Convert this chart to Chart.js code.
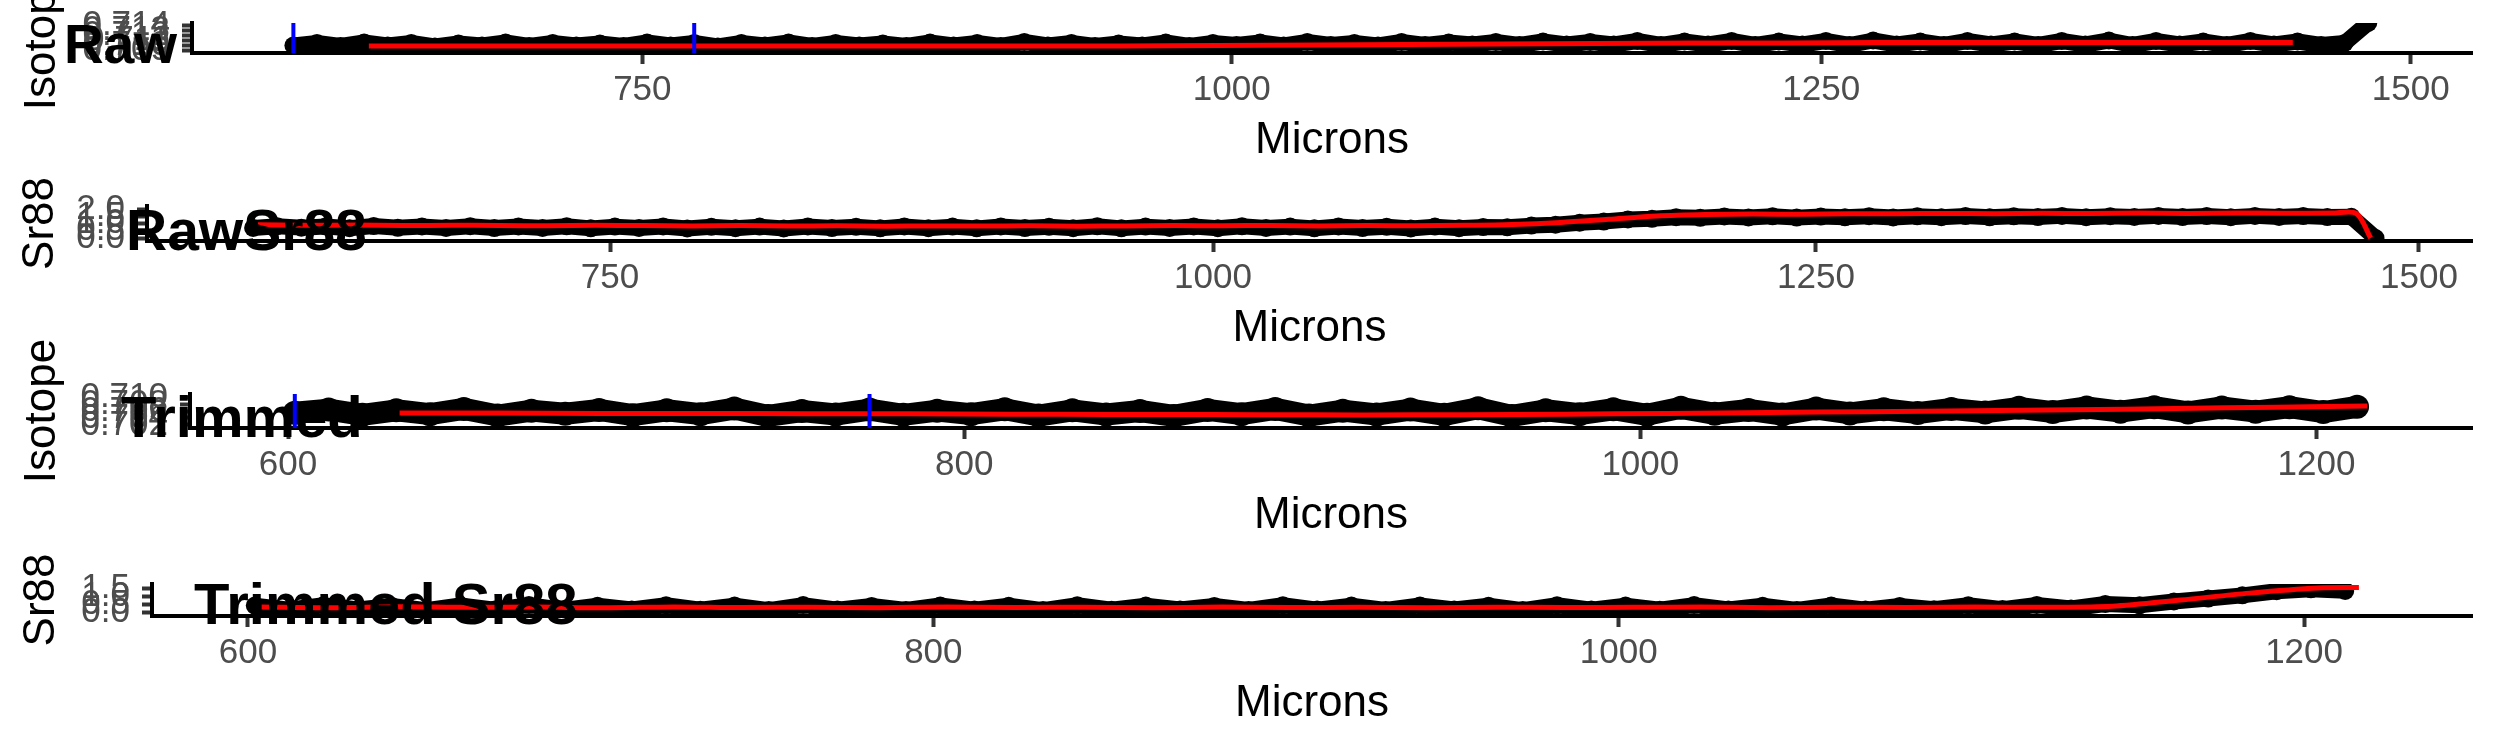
<!DOCTYPE html>
<html>
<head>
<meta charset="utf-8">
<script src="https://cdn.jsdelivr.net/npm/chart.js@4.4.1/dist/chart.umd.min.js"></script>
<style>
  html, body { margin: 0; padding: 0; background: #fff; }
  body { width: 2495px; height: 749px; position: relative; overflow: hidden; }
  canvas { position: absolute; left: 0; }
</style>
</head>
<body>
<canvas id="p1" width="2495" height="190" style="top:0px"></canvas>
<canvas id="p2" width="2495" height="260" style="top:120px"></canvas>
<canvas id="p3" width="2495" height="265" style="top:300px"></canvas>
<canvas id="p4" width="2495" height="259" style="top:490px"></canvas>
<script>
// Microns of the raw profile
const rawMicrons = [
  602, 612, 622, 632, 642, 652, 662, 672, 682, 692,
  702, 712, 722, 732, 742, 752, 762, 772, 782, 792,
  802, 812, 822, 832, 842, 852, 862, 872, 882, 892,
  902, 912, 922, 932, 942, 952, 962, 972, 982, 992,
  1002, 1012, 1022, 1032, 1042, 1052, 1062, 1072, 1082, 1092,
  1102, 1112, 1122, 1132, 1142, 1152, 1162, 1172, 1182, 1192,
  1202, 1212, 1222, 1232, 1242, 1252, 1262, 1272, 1282, 1292,
  1302, 1312, 1322, 1332, 1342, 1352, 1362, 1372, 1382, 1392,
  1402, 1412, 1422, 1432, 1442, 1452, 1462, 1472, 1482
];
// Isotope ratio, raw
const rawIsotope = [
  0.7099, 0.7104, 0.7098, 0.7105, 0.7099, 0.7104, 0.7097, 0.7103, 0.7099, 0.7105,
  0.7098, 0.7104, 0.7099, 0.7103, 0.7098, 0.7105, 0.7099, 0.7104, 0.7097, 0.7104,
  0.7099, 0.7105, 0.7098, 0.7104, 0.7099, 0.7103, 0.7098, 0.7105, 0.7099, 0.7104,
  0.7098, 0.7106, 0.7099, 0.7104, 0.7098, 0.7103, 0.7099, 0.7105, 0.7098, 0.7104,
  0.7100, 0.7105, 0.7099, 0.7106, 0.7100, 0.7104, 0.7099, 0.7106, 0.7100, 0.7105,
  0.7101, 0.7106, 0.7100, 0.7107, 0.7101, 0.7106, 0.7101, 0.7108, 0.7100, 0.7107,
  0.7101, 0.7108, 0.7100, 0.7107, 0.7101, 0.7108, 0.7100, 0.7109, 0.7101, 0.7107,
  0.7100, 0.7108, 0.7101, 0.7107, 0.7100, 0.7108, 0.7101, 0.7109, 0.7100, 0.7108,
  0.7101, 0.7107, 0.7100, 0.7108, 0.7101, 0.7107, 0.7100, 0.7104, 0.7144
];
// Sr88 signal, raw
const rawSr88 = [
  0.70, 0.82, 0.72, 0.80, 0.68, 0.83, 0.71, 0.80, 0.70, 0.82,
  0.69, 0.80, 0.70, 0.81, 0.67, 0.79, 0.70, 0.80, 0.66, 0.78,
  0.68, 0.79, 0.66, 0.80, 0.69, 0.78, 0.67, 0.80, 0.68, 0.79,
  0.67, 0.80, 0.69, 0.78, 0.68, 0.81, 0.67, 0.79, 0.70, 0.80,
  0.68, 0.81, 0.70, 0.79, 0.67, 0.80, 0.69, 0.78, 0.66, 0.79,
  0.68, 0.76, 0.74, 0.86, 0.92, 1.06, 1.14, 1.28, 1.33, 1.44,
  1.40, 1.49, 1.42, 1.50, 1.41, 1.48, 1.43, 1.51, 1.42, 1.50,
  1.44, 1.52, 1.43, 1.50, 1.45, 1.53, 1.44, 1.51, 1.46, 1.53,
  1.45, 1.52, 1.44, 1.53, 1.46, 1.52, 1.45, 1.47, 0.00
];
// Smoothed (red) lines, raw
const rawIsoSmoothX = [634, 674, 714, 754, 794, 834, 874, 914, 954, 994, 1034,
  1074, 1114, 1154, 1194, 1234, 1274, 1314, 1354, 1394, 1434, 1450];
const rawIsoSmooth = [0.7098, 0.7098, 0.7098, 0.7098, 0.7098, 0.7098, 0.7098, 0.7098, 0.7098, 0.7099, 0.7100,
  0.7101, 0.7102, 0.7103, 0.7104, 0.7104, 0.7105, 0.7105, 0.7105, 0.7105, 0.7105, 0.7105];
const rawSrSmoothX = [
  604, 624, 644, 664, 684, 704, 724, 744, 764, 784,
  804, 824, 844, 864, 884, 904, 924, 944, 964, 984,
  1004, 1024, 1044, 1064, 1084, 1104, 1124, 1144, 1164, 1184,
  1204, 1224, 1244, 1264, 1284, 1304, 1324, 1344, 1364, 1384,
  1404, 1424, 1444, 1464, 1474, 1480
];
const rawSrSmooth = [
  0.92, 0.88, 0.90, 0.86, 0.89, 0.87, 0.85, 0.88, 0.86, 0.84,
  0.86, 0.83, 0.85, 0.82, 0.84, 0.83, 0.85, 0.82, 0.84, 0.86,
  0.85, 0.87, 0.84, 0.86, 0.85, 0.88, 0.94, 1.08, 1.30, 1.52,
  1.62, 1.66, 1.64, 1.68, 1.67, 1.70, 1.68, 1.71, 1.69, 1.72,
  1.70, 1.73, 1.71, 1.72, 1.70, 0.00
];

// Microns of the trimmed profile
const trimMicrons = [
  602, 612, 622, 632, 642, 652, 662, 672, 682, 692,
  702, 712, 722, 732, 742, 752, 762, 772, 782, 792,
  802, 812, 822, 832, 842, 852, 862, 872, 882, 892,
  902, 912, 922, 932, 942, 952, 962, 972, 982, 992,
  1002, 1012, 1022, 1032, 1042, 1052, 1062, 1072, 1082, 1092,
  1102, 1112, 1122, 1132, 1142, 1152, 1162, 1172, 1182, 1192,
  1202, 1212
];
const trimIsotope = [
  0.7055, 0.7064, 0.7049, 0.7062, 0.7051, 0.7066, 0.7047, 0.7061, 0.7052, 0.7063,
  0.7048, 0.7062, 0.7051, 0.7067, 0.7046, 0.7060, 0.7050, 0.7064, 0.7049, 0.7061,
  0.7051, 0.7065, 0.7047, 0.7062, 0.7050, 0.7060, 0.7046, 0.7063, 0.7051, 0.7066,
  0.7047, 0.7061, 0.7050, 0.7064, 0.7049, 0.7068, 0.7046, 0.7062, 0.7051, 0.7065,
  0.7049, 0.7069, 0.7052, 0.7063, 0.7050, 0.7067, 0.7053, 0.7065, 0.7054, 0.7066,
  0.7056, 0.7069, 0.7057, 0.7070, 0.7058, 0.7071, 0.7056, 0.7070, 0.7058, 0.7071,
  0.7057, 0.7072
];
const trimSr88 = [
  0.40, 0.14, 0.42, 0.16, 0.38, 0.12, 0.41, 0.15, 0.43, 0.13,
  0.39, 0.16, 0.42, 0.14, 0.40, 0.12, 0.43, 0.15, 0.38, 0.13,
  0.41, 0.15, 0.39, 0.12, 0.42, 0.14, 0.40, 0.16, 0.38, 0.13,
  0.42, 0.15, 0.40, 0.13, 0.41, 0.16, 0.39, 0.12, 0.42, 0.15,
  0.40, 0.14, 0.43, 0.16, 0.39, 0.13, 0.41, 0.15, 0.38, 0.17,
  0.42, 0.18, 0.44, 0.22, 0.50, 0.42, 0.66, 0.84, 1.04, 1.30,
  1.42, 1.32
];
// Smoothed (red) lines, trimmed
const trimIsoSmoothX = [633, 663, 693, 723, 753, 783, 813, 843, 873, 903,
  933, 963, 993, 1023, 1053, 1083, 1113, 1143, 1173, 1203, 1215];
const trimIsoSmooth = [0.7054, 0.7054, 0.7053, 0.7053, 0.7052, 0.7052, 0.7051, 0.7050, 0.7050, 0.7049,
  0.7049, 0.7050, 0.7052, 0.7054, 0.7057, 0.7059, 0.7062, 0.7065, 0.7069, 0.7073, 0.7074];
const trimSrSmoothX = [
  604, 624, 644, 664, 684, 704, 724, 744, 764, 784,
  804, 824, 844, 864, 884, 904, 924, 944, 964, 984,
  1004, 1024, 1044, 1064, 1084, 1104, 1124, 1144, 1164, 1184,
  1204, 1216
];
const trimSrSmooth = [
  0.32, 0.27, 0.33, 0.29, 0.31, 0.26, 0.32, 0.28, 0.30, 0.27,
  0.31, 0.28, 0.30, 0.26, 0.31, 0.28, 0.29, 0.27, 0.30, 0.28,
  0.29, 0.31, 0.27, 0.30, 0.28, 0.31, 0.30, 0.36, 0.75, 1.18,
  1.50, 1.53
];

// Blue markers (window limits)
const windowMarks = [602, 772];

// Tick labels
const rawXTicks = [750, 1000, 1250, 1500];
const trimXTicks = [600, 800, 1000, 1200];
const rawIsoTicks = [0.709, 0.710, 0.711, 0.712, 0.713, 0.714];
const rawSrTicks = [0, 0.5, 1, 1.5, 2];
const trimIsoTicks = [0.702, 0.704, 0.706, 0.708, 0.710];
const trimSrTicks = [0, 0.5, 1, 1.5];

const FONT = '"Liberation Sans", Arial, Helvetica, sans-serif';
Chart.defaults.font.family = FONT;

function pontos(xs, ys) {
  return xs.map((x, i) => ({ x: x, y: ys[i] }));
}

// Título em negrito desenhado por cima do painel
const tituloPainel = {
  id: 'tituloPainel',
  afterDraw(chart, args, opts) {
    const ctx = chart.ctx;
    ctx.save();
    ctx.font = 'bold ' + opts.size + 'px ' + FONT;
    ctx.fillStyle = '#000';
    ctx.textBaseline = 'alphabetic';
    ctx.fillText(opts.text, opts.x, opts.y);
    ctx.restore();
  }
};

function criarPainel(id, p) {
  const datasets = [];
  if (p.marks) {
    p.marks.forEach(m => {
      datasets.push({
        data: [{ x: m, y: p.yMin }, { x: m, y: p.yMax }],
        showLine: true, borderColor: '#0000FF', borderWidth: 4,
        pointRadius: 0, clip: 0
      });
    });
  }
  datasets.push({
    data: pontos(p.smoothX, p.smooth),
    showLine: true, borderColor: '#FF0000', borderWidth: 5,
    pointRadius: 0, tension: 0.3, clip: 0
  });
  datasets.push({
    data: pontos(p.xs, p.ys),
    showLine: true, borderColor: '#000', backgroundColor: '#000',
    borderWidth: p.band, borderJoinStyle: 'round', borderCapStyle: 'round',
    pointRadius: p.dot, pointBorderWidth: 0, clip: 0
  });

  return new Chart(document.getElementById(id), {
    type: 'scatter',
    data: { datasets: datasets },
    plugins: [tituloPainel],
    options: {
      responsive: false,
      animation: false,
      events: [],
      layout: { padding: { left: 0, right: 23, top: p.padTop, bottom: p.padBottom } },
      plugins: {
        legend: { display: false },
        tooltip: { enabled: false },
        tituloPainel: p.title
      },
      scales: {
        x: {
          type: 'linear', min: p.xMin, max: p.xMax,
          afterBuildTicks: s => { s.ticks = p.xTicks.map(v => ({ value: v })); },
          afterFit: s => { s.height = 114; s.paddingLeft = 0; s.paddingRight = 0; },
          grid: { display: true, drawOnChartArea: false, drawTicks: true, tickLength: 11, tickColor: '#333333', tickWidth: 4 },
          border: { display: true, color: '#000', width: 4 },
          ticks: { autoSkip: false, maxRotation: 0, padding: 5, color: '#4D4D4D', font: { size: 35 },
            callback: v => String(v) },
          title: { display: true, text: 'Microns', color: '#000', font: { size: 44 }, padding: { top: 0, bottom: 0 } }
        },
        y: {
          type: 'linear', min: p.yMin, max: p.yMax,
          afterBuildTicks: s => { s.ticks = p.yTicks.map(v => ({ value: v })); },
          afterFit: s => { s.width = p.yWidth; s.paddingTop = 0; s.paddingBottom = 0; },
          grid: { display: true, drawOnChartArea: false, drawTicks: true, tickLength: 10, tickColor: '#333333', tickWidth: 4 },
          border: { display: true, color: '#000', width: 4 },
          ticks: { autoSkip: false, padding: 12, color: '#4D4D4D', font: { size: 35 },
            callback: v => v.toFixed(p.decimals) },
          title: { display: true, text: p.yTitle, color: '#000', font: { size: 44 }, padding: { top: p.yTitlePad, bottom: 0 } }
        }
      }
    }
  });
}

// Raw - isotope
criarPainel('p1', {
  xs: rawMicrons, ys: rawIsotope, smoothX: rawIsoSmoothX, smooth: rawIsoSmooth, marks: windowMarks,
  xMin: 559, xMax: 1526, yMin: 0.7084, yMax: 0.7144, xTicks: rawXTicks, yTicks: rawIsoTicks, decimals: 3,
  yTitle: 'Isotope', yTitlePad: 16, yWidth: 192, padTop: 23, padBottom: 23, dot: 9, band: 16,
  title: { text: 'Raw', x: 64, y: 63, size: 55 }
});

// Raw - Sr88
criarPainel('p2', {
  xs: rawMicrons, ys: rawSr88, smoothX: rawSrSmoothX, smooth: rawSrSmooth, marks: null,
  xMin: 558, xMax: 1522, yMin: -0.2, yMax: 2.21, xTicks: rawXTicks, yTicks: rawSrTicks, decimals: 1,
  yTitle: 'Sr88', yTitlePad: 14, yWidth: 147, padTop: 86, padBottom: 25, dot: 9, band: 16,
  title: { text: 'RawSr88', x: 126, y: 130, size: 57 }
});

// Trimmed - isotope
criarPainel('p3', {
  xs: trimMicrons, ys: trimIsotope, smoothX: trimIsoSmoothX, smooth: trimIsoSmooth, marks: windowMarks,
  xMin: 571, xMax: 1246, yMin: 0.70114, yMax: 0.71086, xTicks: trimXTicks, yTicks: trimIsoTicks, decimals: 3,
  yTitle: 'Isotope', yTitlePad: 16, yWidth: 190, padTop: 94, padBottom: 23, dot: 12, band: 22,
  title: { text: 'Trimmed', x: 121, y: 137, size: 58 }
});

// Trimmed - Sr88
criarPainel('p4', {
  xs: trimMicrons, ys: trimSr88, smoothX: trimSrSmoothX, smooth: trimSrSmooth, marks: null,
  xMin: 572, xMax: 1249, yMin: -0.25, yMax: 1.75, xTicks: trimXTicks, yTicks: trimSrTicks, decimals: 1,
  yTitle: 'Sr88', yTitlePad: 15, yWidth: 152, padTop: 94, padBottom: 19, dot: 9, band: 16,
  title: { text: 'Trimmed Sr88', x: 194, y: 134, size: 58 }
});
</script>
</body>
</html>
